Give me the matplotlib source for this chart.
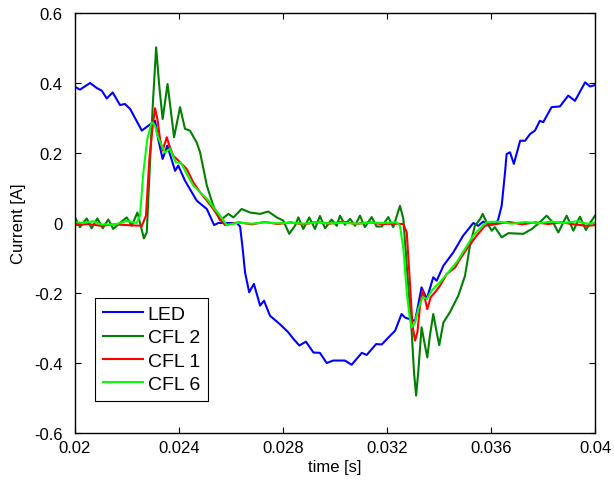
import matplotlib
matplotlib.use("Agg")
import matplotlib.pyplot as plt
import numpy as np

plt.rcParams['font.family'] = ['Liberation Sans', 'DejaVu Sans']

# time in ms, current in A
led_t = [20.00, 20.19, 20.58, 20.83, 21.03, 21.22, 21.45, 21.73, 21.92, 22.12, 22.57, 22.82, 23.08,
         23.20, 23.37, 23.55, 23.85, 23.97, 24.23, 24.49, 24.68, 25.07, 25.35, 25.51, 26.22, 26.35,
         26.45, 26.54, 26.70, 26.88, 27.12, 27.27, 27.50, 27.88, 28.20, 28.40, 28.63, 28.88, 29.17,
         29.42, 29.68, 29.93, 30.19, 30.38, 30.64, 31.03, 31.22, 31.58, 31.80, 32.12, 32.31, 32.56,
         32.69, 33.08, 33.33, 33.53, 33.78, 33.91, 34.17, 34.55, 34.93, 35.32, 35.51, 35.70, 35.90,
         36.15, 36.22, 36.28, 36.41, 36.54, 36.60, 36.73, 36.88, 37.12, 37.31, 37.50, 37.69, 37.88,
         38.01, 38.33, 38.65, 38.97, 39.23, 39.62, 39.81, 40.00]
led_i = [0.389, 0.381, 0.400, 0.386, 0.378, 0.356, 0.373, 0.337, 0.340, 0.326, 0.264, 0.278, 0.292,
         0.240, 0.183, 0.221, 0.149, 0.164, 0.121, 0.088, 0.064, 0.040, -0.006, 0.000, 0.000, -0.010,
         -0.074, -0.141, -0.198, -0.174, -0.236, -0.222, -0.265, -0.289, -0.312, -0.331, -0.350, -0.339, -0.370,
         -0.371, -0.400, -0.393, -0.393, -0.393, -0.405, -0.371, -0.377, -0.346, -0.347, -0.322, -0.308, -0.260,
         -0.270, -0.280, -0.184, -0.217, -0.155, -0.165, -0.122, -0.084, -0.036, 0.000, -0.008, 0.004, -0.004,
         -0.003, 0.002, 0.011, 0.049, 0.145, 0.197, 0.202, 0.169, 0.235, 0.235, 0.254, 0.264, 0.292,
         0.288, 0.331, 0.333, 0.364, 0.349, 0.402, 0.390, 0.394]

cfl2_t = [20.00, 20.19, 20.45, 20.64, 20.86, 21.07, 21.28, 21.47, 21.73, 21.99, 22.18, 22.40, 22.53,
          22.65, 22.76, 22.88, 22.99, 23.12, 23.24, 23.37, 23.56, 23.81, 24.04, 24.23, 24.42, 24.68,
          24.81, 25.07, 25.32, 25.58, 25.90, 26.09, 26.41, 26.73, 27.12, 27.43, 27.76, 28.01, 28.24,
          28.46, 28.59, 28.78, 29.01, 29.23, 29.42, 29.62, 29.87, 30.07, 30.19, 30.38, 30.58, 30.77,
          30.96, 31.15, 31.41, 31.60, 31.80, 32.05, 32.24, 32.50, 32.63, 32.76, 32.95, 33.04, 33.12,
          33.20, 33.33, 33.46, 33.55, 33.65, 33.78, 33.91, 34.01, 34.17, 34.42, 34.74, 35.00, 35.19,
          35.38, 35.58, 35.68, 35.83, 36.03, 36.15, 36.41, 36.67, 37.24, 37.57, 37.88, 38.14, 38.40,
          38.59, 38.91, 39.17, 39.42, 39.65, 39.81, 40.00]
cfl2_i = [0.016, -0.012, 0.013, -0.015, 0.013, -0.015, 0.010, -0.017, 0.000, 0.016, -0.008, 0.030, -0.008,
          -0.044, -0.027, 0.164, 0.335, 0.502, 0.392, 0.297, 0.397, 0.245, 0.331, 0.269, 0.264, 0.230,
          0.202, 0.107, 0.049, 0.007, 0.026, 0.016, 0.040, 0.030, 0.026, 0.033, 0.016, 0.007, -0.031,
          -0.008, 0.016, -0.017, 0.016, -0.017, 0.020, -0.015, 0.010, -0.008, 0.021, -0.005, 0.012, -0.008,
          0.021, -0.012, 0.017, -0.010, -0.010, 0.017, -0.012, 0.049, 0.011, -0.122, -0.312, -0.427, -0.493,
          -0.427, -0.298, -0.350, -0.384, -0.322, -0.260, -0.312, -0.349, -0.284, -0.255, -0.208, -0.151, -0.065,
          -0.008, 0.011, 0.026, 0.002, -0.022, -0.012, -0.041, -0.029, -0.031, -0.017, 0.002, 0.021, 0.000,
          -0.027, 0.021, -0.022, 0.018, -0.020, 0.000, 0.021]

cfl1_t = [20.00, 20.50, 21.00, 21.50, 22.00, 22.57, 22.73, 22.86, 22.99, 23.08, 23.17, 23.27, 23.37,
          23.53, 23.63, 23.78, 23.91, 24.30, 24.55, 24.81, 25.07, 25.32, 25.58, 25.77, 26.30, 26.80,
          27.30, 27.80, 28.30, 28.80, 29.30, 29.80, 30.30, 30.80, 31.30, 31.80, 32.30, 32.63, 32.76,
          32.88, 32.98, 33.08, 33.17, 33.27, 33.37, 33.46, 33.55, 33.68, 33.85, 34.04, 34.30, 34.62,
          34.81, 35.07, 35.45, 35.77, 36.20, 36.70, 37.20, 37.70, 38.20, 38.70, 39.20, 39.70, 40.00]
cfl1_i = [-0.006, -0.003, -0.008, -0.004, -0.006, -0.008, 0.021, 0.183, 0.278, 0.328, 0.297, 0.240, 0.207,
          0.245, 0.221, 0.192, 0.183, 0.154, 0.116, 0.088, 0.064, 0.040, 0.011, -0.006, 0.002, -0.004,
          0.003, -0.003, 0.002, -0.004, 0.003, -0.002, 0.004, -0.003, 0.002, -0.003, -0.002, -0.003, -0.027,
          -0.169, -0.293, -0.336, -0.312, -0.236, -0.193, -0.217, -0.246, -0.212, -0.198, -0.179, -0.146, -0.127,
          -0.103, -0.074, -0.036, -0.008, -0.003, 0.003, -0.004, 0.002, -0.003, 0.002, -0.004, -0.008, -0.006]

cfl6_t = [20.00, 20.30, 20.70, 21.00, 21.50, 22.00, 22.37, 22.50, 22.63, 22.78, 22.95, 23.08, 23.17,
          23.33, 23.46, 23.65, 23.88, 24.07, 24.30, 24.55, 24.81, 25.07, 25.32, 25.58, 25.83, 26.30,
          26.80, 27.30, 27.80, 28.30, 28.80, 29.30, 29.80, 30.30, 30.80, 31.30, 31.80, 32.37, 32.50,
          32.63, 32.76, 32.88, 32.95, 33.08, 33.20, 33.37, 33.53, 33.72, 34.04, 34.30, 34.68, 35.00,
          35.32, 35.70, 35.83, 36.30, 36.80, 37.30, 37.80, 38.30, 38.80, 39.30, 39.70, 40.00]
cfl6_i = [0.002, 0.000, 0.005, -0.004, -0.005, 0.006, 0.000, 0.021, 0.145, 0.240, 0.288, 0.278, 0.250,
          0.221, 0.202, 0.212, 0.173, 0.173, 0.140, 0.107, 0.088, 0.069, 0.045, 0.021, -0.006, 0.001,
          -0.002, 0.002, -0.001, 0.001, -0.002, 0.002, -0.001, 0.001, -0.002, 0.001, 0.000, 0.002, -0.008,
          -0.074, -0.198, -0.274, -0.298, -0.284, -0.246, -0.212, -0.217, -0.193, -0.169, -0.146, -0.112, -0.074,
          -0.036, -0.006, 0.002, 0.004, -0.002, 0.003, -0.001, 0.004, 0.000, 0.005, -0.002, 0.000]

labels = ["LED", "CFL 2", "CFL 1", "CFL 6"]
colors = ["#0000ff", "#008000", "#ff0000", "#00ff00"]

xticks = [0.02, 0.024, 0.028, 0.032, 0.036, 0.04]
xticklabels = ["0.02", "0.024", "0.028", "0.032", "0.036", "0.04"]
yticks = [-0.6, -0.4, -0.2, 0.0, 0.2, 0.4, 0.6]
yticklabels = ["-0.6", "-0.4", "-0.2", "0", "0.2", "0.4", "0.6"]

fig = plt.figure(figsize=(6.14, 4.85), dpi=100)
ax = fig.add_axes([75/614, 51/485, 520/614, 420/485])

series = [(led_t, led_i), (cfl2_t, cfl2_i), (cfl1_t, cfl1_i), (cfl6_t, cfl6_i)]
for (t, i), lab, c in zip(series, labels, colors):
    ax.plot(np.array(t) / 1000.0, i, color=c, lw=1.5, label=lab)

ax.set_xlim(0.02, 0.04)
ax.set_ylim(-0.6, 0.6)
ax.set_xticks(xticks)
ax.set_xticklabels(xticklabels)
ax.set_yticks(yticks)
ax.set_yticklabels(yticklabels)
ax.tick_params(direction='in', top=True, right=True, length=4, width=0.8, labelsize=12)
ax.tick_params(axis='x', pad=5)
ax.tick_params(axis='y', pad=9)
for s in ax.spines.values():
    s.set_linewidth(1.0)
ax.set_xlabel("time [s]", fontsize=12, labelpad=3)
ax.set_ylabel("Current [A]", fontsize=12, labelpad=6)

leg = ax.legend(loc='lower left', bbox_to_anchor=(20/520, 32/420), borderaxespad=0,
                fontsize=14, fancybox=False, framealpha=1, edgecolor='black',
                handlelength=2.05, labelspacing=0.3, borderpad=0.4, handletextpad=0.25)
leg.get_frame().set_linewidth(0.8)

fig.savefig("out.png", dpi=100)
